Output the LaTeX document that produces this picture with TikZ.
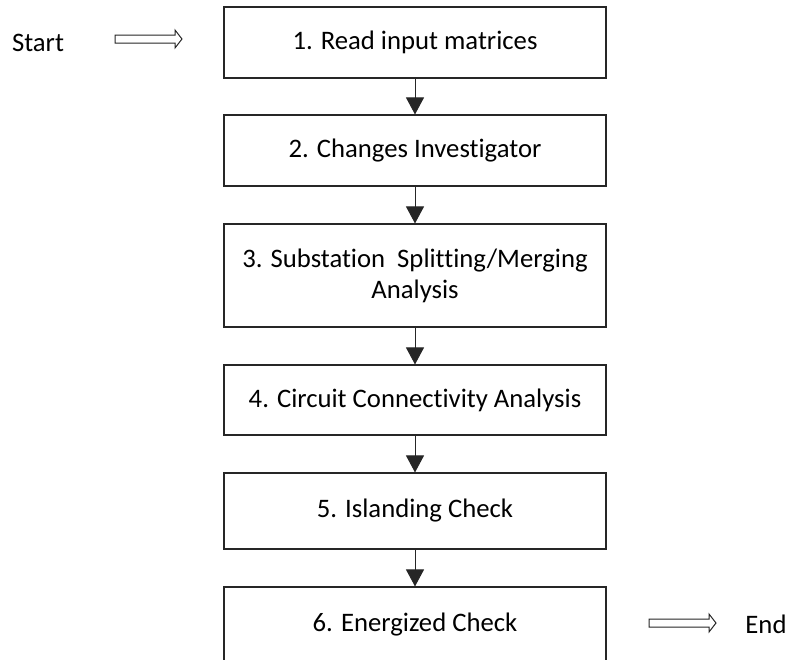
\documentclass[tikz,border=0pt]{standalone}
\usepackage{fontspec}
\setmainfont{Carlito}[Ligatures={NoCommon,NoRequired,NoContextual}]
\usetikzlibrary{arrows.meta}
\begin{document}
\begin{tikzpicture}[x=1pt,y=-1pt,
  box/.style={draw=black!85, line width=1.1pt, minimum width=382pt, inner sep=0pt, align=center, font=\fontsize{26.7}{31}\selectfont},
  flow/.style={draw=black!85, line width=1pt, -{Triangle[width=18pt,length=17pt]}},
  hollow/.style={draw=black!85, line width=1pt, fill=white, line join=miter},
  lbl/.style={inner sep=0pt, font=\fontsize{26.7}{31}\selectfont}]
\useasboundingbox (0,0) rectangle (787,659);
\clip (0,0) rectangle (787,659);
\node[box, minimum height=71pt] (b1) at (415,42.5) {1. Read input matrices};
\node[box, minimum height=71pt] (b2) at (415,150.5) {2. Changes Investigator};
\node[box, minimum height=103pt] (b3) at (415,275.5) {3. Substation\ \ Splitting/Merging\\Analysis};
\node[box, minimum height=70pt] (b4) at (415,400) {4. Circuit Connectivity Analysis};
\node[box, minimum height=76pt] (b5) at (415,511) {5. Islanding Check};
\node[box, minimum height=76pt] (b6) at (415,625) {6. Energized Check};
\node[lbl] (start) at (38,43) {Start};
\node[lbl] (end) at (766,624) {End};
\draw[flow] (b1) -- (b2);
\draw[flow] (b2) -- (b3);
\draw[flow] (b3) -- (b4);
\draw[flow] (b4) -- (b5);
\draw[flow] (b5) -- (b6);
\draw[hollow] (115,35) -- (175,35) -- (175,30) -- (182,39) -- (175,48) -- (175,43) -- (115,43) -- cycle;
\draw[hollow] (649,619) -- (709,619) -- (709,614) -- (716,623) -- (709,632) -- (709,627) -- (649,627) -- cycle;
\end{tikzpicture}
\end{document}
